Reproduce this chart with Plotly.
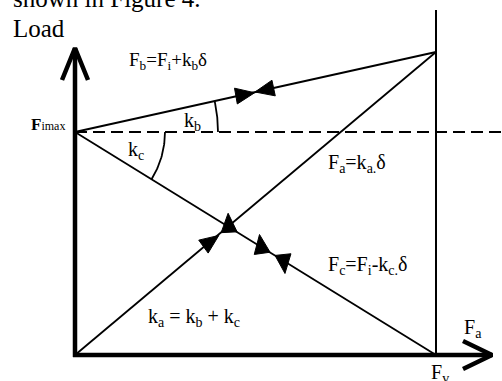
import numpy as np
import plotly.graph_objects as go

# key points of the load diagram (pixel space, y grows downward)
node_names = ['O', 'Fimax', 'P', 'Fv']
node_x = [75, 75, 436, 436]
node_y = [355, 132, 52, 355]

# axes: origin, tip of the load axis, tip of the force axis
axis_x = [75, 75, 492]
axis_y = [355, 48, 355]
chevron_back = 30
chevron_half = 13

# segments of the diagram (start node, end node)
segments = {'FP': ('Fimax', 'P'), 'OP': ('O', 'P'), 'FV': ('Fimax', 'Fv')}
right_line_top = 10
dash_right = 502

# arrowheads: segment, centroid position along it, heading (deg, ccw)
arrow_seg = ['FP', 'FP', 'OP', 'OP', 'FV', 'FV']
arrow_t = [0.463, 0.533, 0.370, 0.426, 0.516, 0.578]
arrow_heading = [10, 192, 36, 93, 98, 276]

# angle marks around F_imax
arc_radius = [143, 90]
arc_from = [0, 0]
arc_to = [12.5, -31.7]

# labels
label_text = [
    'shown in Figure 4.',
    'Load',
    'F<sub>b</sub>=F<sub>i</sub>+k<sub>b</sub>δ',
    'k<sub>b</sub>',
    'k<sub>c</sub>',
    '<b>F</b><span style="font-size:12px">imax</span>',
    'F<sub>a</sub>=k<sub>a.</sub>δ',
    'F<sub>c</sub>=F<sub>i</sub>-k<sub>c.</sub>δ',
    'k<sub>a</sub> = k<sub>b</sub> + k<sub>c</sub>',
    'F<sub>a</sub>',
    'F<sub>v</sub>',
]
label_x = [12, 12, 128, 183, 127, 30, 327, 327, 147, 463, 430]
label_y = [4, 28.5, 61, 121, 150, 124, 163, 265, 317, 328, 373]
label_shift = [5.5, 0, 0, 0, 0, 0, 0, 0, 0, 0, 0]
label_size = [25, 25, 19, 20, 20, 17, 20, 20, 20, 20, 20]

pt = {n: (x, y) for n, x, y in zip(node_names, node_x, node_y)}
FONT = 'Liberation Serif'

fig = go.Figure()


def add_line(xs, ys, width=2, dash='solid'):
    fig.add_trace(go.Scatter(x=xs, y=ys, mode='lines', hoverinfo='skip',
                             line=dict(color='black', width=width, dash=dash)))


# dashed level of F_imax
add_line([pt['Fimax'][0], dash_right], [pt['Fimax'][1], pt['Fimax'][1]], 1.8, '12px,6px')

# right vertical line through P and Fv
add_line([pt['P'][0], pt['Fv'][0]], [right_line_top, pt['Fv'][1]], 2)

# diagram lines
for a, b in segments.values():
    add_line([pt[a][0], pt[b][0]], [pt[a][1], pt[b][1]], 1.8)

# axes
add_line([axis_x[0], axis_x[1]], [axis_y[0] + 2, axis_y[1]], 4.5)
add_line([axis_x[0] - 2, axis_x[2]], [axis_y[0], axis_y[2]], 4.5)
add_line([axis_x[1] - chevron_half, axis_x[1], axis_x[1] + chevron_half],
         [axis_y[1] + chevron_back + 2, axis_y[1], axis_y[1] + chevron_back + 2], 4.5)
add_line([axis_x[2] - chevron_back + 1, axis_x[2], axis_x[2] - chevron_back + 1],
         [axis_y[2] - chevron_half - 1, axis_y[2], axis_y[2] + chevron_half + 1], 4.5)

# angle arcs
cx, cy = pt['Fimax']
for r, a0, a1 in zip(arc_radius, arc_from, arc_to):
    ang = np.radians(np.linspace(a0, a1, 40))
    add_line(cx + r * np.cos(ang), cy - r * np.sin(ang), 1.8)

# arrowheads
L, W = 19, 16
for s, t, h in zip(arrow_seg, arrow_t, arrow_heading):
    a, b = segments[s]
    gx = pt[a][0] + t * (pt[b][0] - pt[a][0])
    gy = pt[a][1] + t * (pt[b][1] - pt[a][1])
    d = np.array([np.cos(np.radians(h)), -np.sin(np.radians(h))])
    n = np.array([-d[1], d[0]])
    g = np.array([gx, gy])
    tip = g + d * L * 2 / 3
    base = g - d * L / 3
    tri = [tip, base + n * W / 2, base - n * W / 2, tip]
    fig.add_trace(go.Scatter(x=[p[0] for p in tri], y=[p[1] for p in tri], mode='lines',
                             fill='toself', fillcolor='black', hoverinfo='skip',
                             line=dict(color='black', width=1)))

for txt, x, y, ys, sz in zip(label_text, label_x, label_y, label_shift, label_size):
    fig.add_annotation(x=x, y=y, yshift=ys, text=txt, showarrow=False, xanchor='left',
                       yanchor='middle', borderpad=0,
                       font=dict(family=FONT, size=sz, color='black'))

fig.update_layout(
    width=502, height=381,
    margin=dict(l=0, r=0, t=0, b=0),
    paper_bgcolor='white', plot_bgcolor='white',
    showlegend=False,
    font=dict(family=FONT),
    xaxis=dict(range=[0, 502], visible=False, fixedrange=True),
    yaxis=dict(range=[381, 0], visible=False, fixedrange=True),
)

fig.write_html("out.html", config={'displayModeBar': False},
               post_script="document.body.style.margin='0';")
